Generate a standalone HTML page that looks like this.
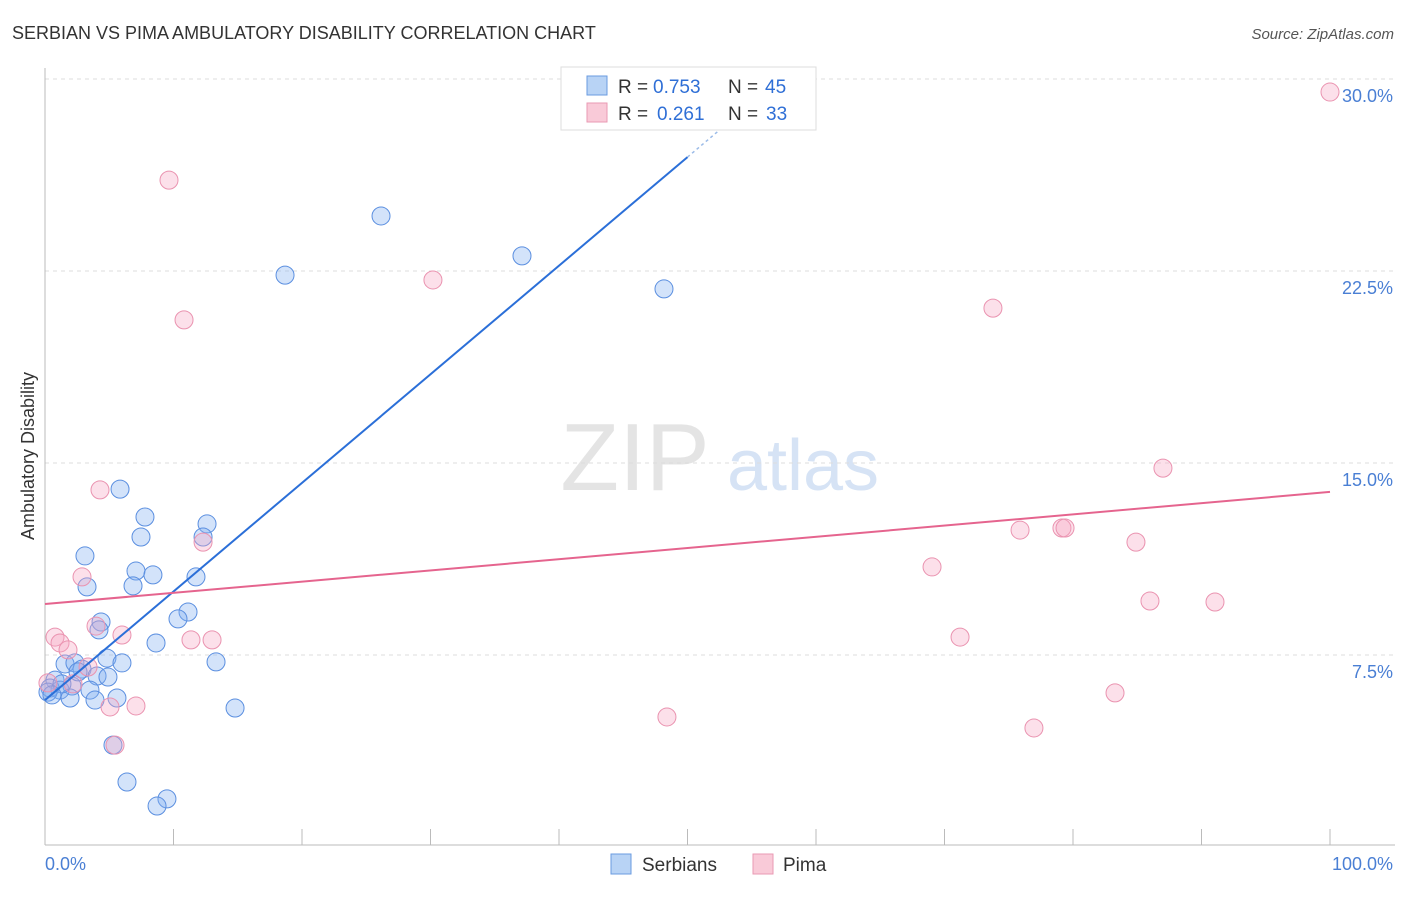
<!DOCTYPE html>
<html><head><meta charset="utf-8"><style>
body{margin:0;background:#fff;font-family:"Liberation Sans",sans-serif;}
svg text{font-family:"Liberation Sans",sans-serif;}
</style></head><body>
<svg id="chart" width="1406" height="892" viewBox="0 0 1406 892" xmlns="http://www.w3.org/2000/svg">
<text x="12" y="39" font-size="18" fill="#333">SERBIAN VS PIMA AMBULATORY DISABILITY CORRELATION CHART</text>
<text x="1394" y="39" font-size="15" font-style="italic" fill="#555" text-anchor="end">Source: ZipAtlas.com</text>
<g>
<text x="635" y="490" font-size="96" font-family="Liberation Serif" fill="#e4e4e4" text-anchor="middle">ZIP</text>
<text x="803" y="490" font-size="72" fill="#d6e3f5" text-anchor="middle">atlas</text>
</g>
<g id="grid"></g>
<g id="axes"></g>
<text transform="translate(34,456) rotate(-90)" font-size="18" fill="#333" text-anchor="middle">Ambulatory Disability</text>
<text x="45" y="870" font-size="18" fill="#4a7fd4">0.0%</text>
<text x="1393" y="870" font-size="18" fill="#4a7fd4" text-anchor="end">100.0%</text>
<g id="pts"></g>
<g id="lines"></g>
<g>
<rect x="561" y="67" width="255" height="63" fill="#fff" stroke="#ddd"/>
<rect x="587" y="76" width="20" height="19" fill="#b8d3f5" stroke="#6a9be0"/>
<rect x="587" y="103" width="20" height="19" fill="#f9cad8" stroke="#e99ab3"/>
<text x="618" y="93" font-size="19" fill="#333">R =</text>
<text x="653" y="93" font-size="19" fill="#2f6fd6">0.753</text>
<text x="728" y="93" font-size="19" fill="#333">N =</text>
<text x="765" y="93" font-size="19" fill="#2f6fd6">45</text>
<text x="618" y="120" font-size="19" fill="#333">R =</text>
<text x="657" y="120" font-size="19" fill="#2f6fd6">0.261</text>
<text x="728" y="120" font-size="19" fill="#333">N =</text>
<text x="766" y="120" font-size="19" fill="#2f6fd6">33</text>
</g>
<g>
<rect x="611" y="854" width="20" height="20" fill="#b8d3f5" stroke="#6a9be0"/>
<text x="642" y="871" font-size="19" fill="#333">Serbians</text>
<rect x="753" y="854" width="20" height="20" fill="#f9cad8" stroke="#e99ab3"/>
<text x="783" y="871" font-size="19" fill="#333">Pima</text>
</g>
</svg>
<script>
const yTicks=[7.5,15,22.5,30];
const yTickLabels=["7.5%","15.0%","22.5%","30.0%"];
const xTicks=[0,10,20,30,40,50,60,70,80,90,100];
const serbX=[5.84,7.78,7.47,3.11,12.61,12.30,7.08,8.40,6.85,3.27,11.75,11.13,10.35,4.36,4.20,8.64,1.56,2.33,4.82,5.99,13.31,2.88,4.05,4.90,0.78,2.10,0.39,1.17,3.50,5.60,1.95,3.89,14.79,5.29,6.38,9.49,8.72,18.68,26.15,37.12,48.17,0.23,1.32,2.57,0.54];
const serbY=[13.98,12.89,12.11,11.37,12.62,12.11,10.78,10.63,10.20,10.16,10.55,9.18,8.91,8.79,8.48,7.97,7.15,7.19,7.38,7.19,7.23,6.95,6.68,6.64,6.52,6.29,6.21,6.13,6.13,5.82,5.82,5.74,5.43,3.98,2.54,1.88,1.60,22.34,24.65,23.09,21.80,6.05,6.37,6.84,5.94];
const pimaX=[9.65,10.82,30.19,4.28,12.30,2.88,0.78,1.17,1.79,3.97,5.99,11.36,13.00,3.35,2.18,5.06,7.08,5.45,0.23,48.40,73.77,69.03,71.21,75.88,79.14,79.38,84.90,87.00,85.99,91.05,83.27,76.96,100];
const pimaY=[26.05,20.59,22.15,13.95,11.91,10.55,8.20,7.97,7.70,8.63,8.28,8.09,8.09,7.03,6.37,5.47,5.51,3.98,6.41,5.08,21.05,10.94,8.20,12.38,12.46,12.46,11.91,14.80,9.61,9.57,6.02,4.65,29.49];
const serbLine=[5.74,26.95]; // y at x=0 and x=50
const pimaLine=[9.49,13.87]; // y at x=0 and x=100
const NS="http://www.w3.org/2000/svg";
const sx=v=>45+v*12.85, sy=v=>847-v*25.6;
function mk(tag,attrs,parent){const e=document.createElementNS(NS,tag);for(const k in attrs)e.setAttribute(k,attrs[k]);parent.appendChild(e);return e;}
const grid=document.getElementById('grid'),axes=document.getElementById('axes'),pts=document.getElementById('pts'),lines=document.getElementById('lines');
yTicks.forEach((t,i)=>{
 const l=mk('line',{x1:45,x2:1395,y1:sy(t),y2:sy(t),stroke:'#ddd','stroke-dasharray':'4,4'},grid);
 
 
 const tx=mk('text',{x:1393,y:sy(t)+23,'font-size':18,fill:'#4a7fd4','text-anchor':'end'},grid);
 tx.textContent=yTickLabels[i];
 
 
});
mk('line',{x1:45,x2:45,y1:68,y2:845,stroke:'#bbb'},axes);
mk('line',{x1:45,x2:1395,y1:845,y2:845,stroke:'#bbb'},axes);
xTicks.forEach(t=>{
 const l=mk('line',{x1:sx(t),x2:sx(t),y1:829,y2:845,stroke:'#bbb'},axes);
 
 
});
serbX.forEach((x,i)=>{
 const c=mk('circle',{cx:sx(x),cy:sy(serbY[i]),r:9,fill:'rgba(130,175,240,0.35)',stroke:'#5b8fe0','stroke-width':1},pts);
 
 
});
pimaX.forEach((x,i)=>{
 const c=mk('circle',{cx:sx(x),cy:sy(pimaY[i]),r:9,fill:'rgba(245,165,195,0.35)',stroke:'#ea93b0','stroke-width':1},pts);
 
 
});
const sl=v=>serbLine[0]+(serbLine[1]-serbLine[0])*v/50;
const bl=mk('line',{x1:sx(0),y1:sy(sl(0)),x2:sx(50),y2:sy(sl(50)),stroke:'#2b6fd8','stroke-width':2},lines);


const bd=mk('line',{x1:sx(50),y1:sy(sl(50)),x2:sx(54),y2:sy(sl(54)),stroke:'#9bbbe8','stroke-width':1.5,'stroke-dasharray':'3,3'},lines);


const pl=mk('line',{x1:sx(0),y1:sy(pimaLine[0]),x2:sx(100),y2:sy(pimaLine[1]),stroke:'#e5648e','stroke-width':2},lines);


</script>
</body></html>
